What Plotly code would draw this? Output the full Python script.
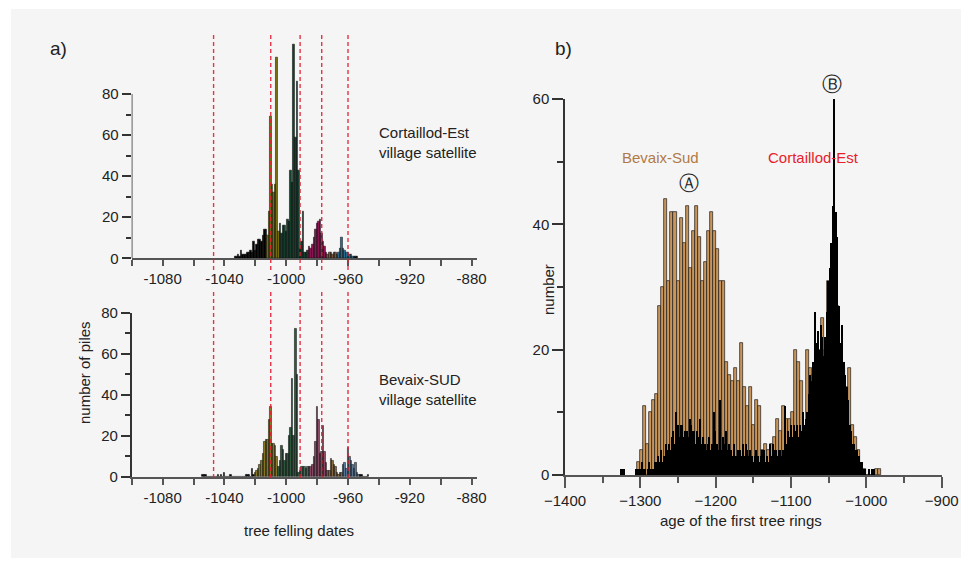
import plotly.graph_objects as go

PAGE_W, PAGE_H = 969, 566
OFF = 8  # default page body margin
W, H = PAGE_W - 2 * OFF, PAGE_H - 2 * OFF

# ---------------- data ----------------
# Panel a (top): Cortaillod-Est village satellite, tree felling dates (1-year bins)
a_top_years = list(range(-1033, -953))
a_top_values = [1, 1, 2, 1, 4, 2, 2, 2, 3, 3, 4, 3, 8, 4, 7, 9, 9, 8, 11, 14, 14,
                11, 23, 69, 36, 32, 36, 98, 13,
                17, 12, 16, 16, 13, 19, 18, 43, 37, 104, 59, 86, 43, 5, 8, 23, 3, 3, 4,
                6, 5, 7, 10, 14, 17, 18, 19, 12, 8, 6, 3,
                2, 3, 3, 2, 3, 3, 2,
                3, 5, 10, 5, 4, 3, 3, 2, 2, 1, 1,
                1, 1]
a_top_phase_starts = [-1033, -1012, -1004, -985, -973, -966, -955]

# Panel a (bottom): Bevaix-SUD village satellite
a_bot_years = list(range(-1054, -946))
a_bot_values = [1, 1, 1, 0, 0, 0, 0, 0, 0, 0, 1, 0, 1, 0, 2, 0, 0, 0, 1,
                0, 0, 0, 0, 0, 0, 0, 0, 0, 1, 1, 1, 0, 4, 1,
                2, 3, 4, 6, 8, 11, 17, 18, 18, 28, 34, 16, 16, 15, 10,
                5, 8, 15, 13, 8, 11, 11, 20, 24, 48, 20, 72, 50, 2,
                3, 5, 5, 5, 4, 5, 5,
                5, 6, 10, 17, 34, 28, 11, 12, 25, 12, 7, 3,
                3, 9, 8, 6, 5, 2, 1, 2, 2,
                6, 7, 4, 14, 10, 8, 6, 4, 7, 2, 1,
                1, 1, 0, 0, 0, 1]
a_bot_phase_starts = [-1054, -1020, -1005, -991, -984, -972, -963, -952]

a_dashed_years = [-1047, -1010, -991, -977, -960]

# Panel b: age of the first tree rings
b_bevaix_years = list(range(-1302, -981, 4))
b_bevaix_values = [2, 4, 11, 5, 10, 12, 13, 27, 30, 44,
                   31, 42, 42, 31, 41, 37, 43, 33, 39, 43,
                   38, 31, 34, 39, 42, 39, 36, 31, 31, 18,
                   16, 15, 17, 15, 21, 14, 11, 14, 8, 12,
                   11, 4, 5, 4, 5, 6, 9, 7, 11, 9,
                   9, 10, 20, 18, 15, 7, 20, 17, 16, 17,
                   20, 25, 20, 31, 30, 38, 27, 19, 17, 14,
                   17, 8, 6, 4, 1, 1, 0, 0, 0, 1, 1]
b_cort_years = list(range(-1326, -989, 2))
b_cort_values = [1, 1, 1, 0, 0, 0, 0, 0, 0, 0,
                 1, 1, 1, 1, 2, 1, 1, 0, 1, 2,
                 1, 1, 1, 2, 2, 3, 2, 4, 2, 3,
                 5, 4, 5, 4, 6, 7, 5, 10, 8, 6,
                 8, 8, 6, 7, 7, 6, 9, 8, 7, 7,
                 5, 7, 6, 9, 5, 6, 5, 4, 5, 6,
                 4, 5, 10, 7, 5, 4, 12, 4, 6, 5,
                 7, 4, 5, 4, 3, 5, 3, 3, 4, 4,
                 3, 5, 3, 5, 4, 3, 4, 3, 2, 3,
                 4, 3, 2, 3, 4, 4, 2, 3, 2, 5,
                 3, 5, 4, 4, 3, 4, 4, 3, 4, 11,
                 5, 7, 6, 8, 6, 8, 7, 8, 6, 8,
                 7, 10, 8, 9, 10, 13, 16, 15, 18, 26,
                 21, 23, 20, 24, 22, 19, 22, 26, 31, 33,
                 37, 43, 60, 42, 38, 27, 21, 24, 18, 16,
                 14, 12, 8, 7, 5, 5, 4, 4, 3, 2,
                 2, 1, 1, 0, 0, 1, 0, 1, 1]

a_x_ticks = list(range(-1100, -879, 20))
a_x_labels = ["" if (v + 1080) % 40 else str(v) for v in a_x_ticks]

# ---------------- styles ----------------
FONT = "Liberation Sans, Arial, sans-serif"
TXT = "#222222"
top_colors = ["#000000", "#7a7410", "#15422e", "#951458", "#7e5c3c", "#2a6f98", "#000000"]
bot_colors = ["#000000", "#8e7e24", "#2f5e40", "#4c6c5c", "#8e4c68", "#8c6c42", "#5c7c9c", "#000000"]


def px(x):
    return (x - OFF) / W


def py(y):
    return 1 - (y - OFF) / H


def split_phases(years, values, starts):
    groups = []
    for i, s in enumerate(starts):
        e = starts[i + 1] if i + 1 < len(starts) else 10 ** 9
        xs = [y for y in years if s <= y < e]
        vs = [v for y, v in zip(years, values) if s <= y < e]
        groups.append((xs, vs))
    return groups


fig = go.Figure()

for (xs, vs), col in zip(split_phases(a_top_years, a_top_values, a_top_phase_starts), top_colors):
    fig.add_trace(go.Bar(x=xs, y=vs, width=1, xaxis="x", yaxis="y",
                         marker=dict(color=col, line=dict(color="#000", width=0.5)),
                         showlegend=False, hoverinfo="x+y"))
for (xs, vs), col in zip(split_phases(a_bot_years, a_bot_values, a_bot_phase_starts), bot_colors):
    fig.add_trace(go.Bar(x=xs, y=vs, width=1, xaxis="x2", yaxis="y2",
                         marker=dict(color=col, line=dict(color="#000", width=0.5)),
                         showlegend=False, hoverinfo="x+y"))

fig.add_trace(go.Bar(x=b_bevaix_years, y=b_bevaix_values, width=4, xaxis="x3", yaxis="y3",
                     marker=dict(color="#c8955a", line=dict(color="#1a1a1a", width=0.7)),
                     showlegend=False, name="Bevaix-Sud"))
fig.add_trace(go.Bar(x=b_cort_years, y=b_cort_values, width=2, xaxis="x3", yaxis="y3",
                     marker=dict(color="#000000", line=dict(width=0)),
                     showlegend=False, name="Cortaillod-Est"))

axfont = dict(family=FONT, size=15, color=TXT)
xline = dict(showline=True, linecolor="#555", linewidth=2, ticks="outside",
             tickcolor="#555", tickwidth=1.5, showgrid=False, zeroline=False,
             tickfont=axfont, automargin=False)
yline = dict(ticks="outside", tickcolor="#333", tickwidth=1.5, showgrid=False,
             zeroline=False, tickfont=axfont, automargin=False)

fig.update_layout(
    width=W, height=H, margin=dict(l=0, r=0, t=0, b=0, pad=0, autoexpand=False),
    autosize=False,
    paper_bgcolor="white", plot_bgcolor="rgba(0,0,0,0)",
    barmode="overlay", bargap=0, showlegend=False,
    font=dict(family=FONT, color=TXT),
    xaxis=dict(domain=[px(131.7), px(477)], range=[-1100, -876.5], anchor="y",
               tickvals=a_x_ticks, ticktext=a_x_labels, ticklen=6, **xline),
    yaxis=dict(domain=[py(258.3), py(32.4)], range=[0, 110], anchor="x",
               showline=False, tickvals=[0, 20, 40, 60, 80], ticklen=9,
               minor=dict(tickvals=[10, 30, 50, 70], ticklen=5, ticks="outside",
                          tickcolor="#333", tickwidth=1.5), **yline),
    xaxis2=dict(domain=[px(131.7), px(477)], range=[-1100, -876.5], anchor="y2",
                tickvals=a_x_ticks, ticktext=a_x_labels, ticklen=6, **xline),
    yaxis2=dict(domain=[py(476.7), py(312.7)], range=[0, 80], anchor="x2",
                showline=True, linecolor="#333", linewidth=1.5,
                tickvals=[0, 20, 40, 60, 80], ticklen=9,
                minor=dict(tickvals=[10, 30, 50, 70], ticklen=5, ticks="outside",
                           tickcolor="#333", tickwidth=1.5), **yline),
    xaxis3=dict(domain=[px(565), px(941.7)], range=[-1400, -900], anchor="y3",
                tickvals=list(range(-1400, -899, 100)), ticklen=11,
                minor=dict(tickvals=list(range(-1350, -900, 100)), ticklen=6,
                           ticks="outside", tickcolor="#555", tickwidth=1.5), **xline),
    yaxis3=dict(domain=[py(475), py(99)], range=[0, 60], anchor="x3",
                showline=True, linecolor="#333", linewidth=1.5,
                tickvals=[0, 20, 40, 60], ticklen=11,
                minor=dict(tickvals=[10, 30, 50], ticklen=6, ticks="outside",
                           tickcolor="#333", tickwidth=1.5), **yline),
)

shapes = [dict(type="rect", xref="paper", yref="paper", x0=px(11), x1=1.01,
               y0=py(559), y1=py(9), fillcolor="#f5f5f5", line=dict(width=0), layer="below"),
          dict(type="line", xref="x", yref="y", x0=-1100, x1=-1100, y0=0, y1=80,
               line=dict(color="#333", width=1.5))]
for yr in a_dashed_years:
    shapes.append(dict(type="line", xref="x", yref="paper", x0=yr, x1=yr,
                       y0=py(270), y1=py(35),
                       line=dict(color="rgba(228,30,50,0.9)", width=1.4, dash="4px,3px")))
    shapes.append(dict(type="line", xref="x2", yref="paper", x0=yr, x1=yr,
                       y0=py(478), y1=py(290),
                       line=dict(color="rgba(228,30,50,0.9)", width=1.4, dash="4px,3px")))
fig.update_layout(shapes=shapes)


def ann(text, x, y, size=15, color=TXT, xanchor="center", angle=0, family=FONT):
    return dict(text=text, x=px(x), y=py(y), xref="paper", yref="paper",
                showarrow=False, xanchor=xanchor, yanchor="middle", textangle=angle,
                font=dict(family=family, size=size, color=color), align="left")


fig.update_layout(annotations=[
    ann("a)", 58, 48, size=19),
    ann("b)", 563, 48, size=19),
    ann("Cortaillod-Est<br>village satellite", 377, 142, xanchor="left"),
    ann("Bevaix-SUD<br>village satellite", 377, 389, xanchor="left"),
    ann("number of piles", 84, 373, angle=-90),
    ann("tree felling dates", 299, 530),
    ann("number", 548, 290, angle=-90),
    ann("age of the first tree rings", 741, 520),
    ann("Bevaix-Sud", 660, 157, color="#b07a48"),
    ann("Cortaillod-Est", 813, 157, color="#e8202a"),
    ann("Ⓐ", 689, 183, size=20, family="DejaVu Sans"),
    ann("Ⓑ", 832, 84, size=20, family="DejaVu Sans"),
])

fig.write_html("out.html", config={"displayModeBar": False})
